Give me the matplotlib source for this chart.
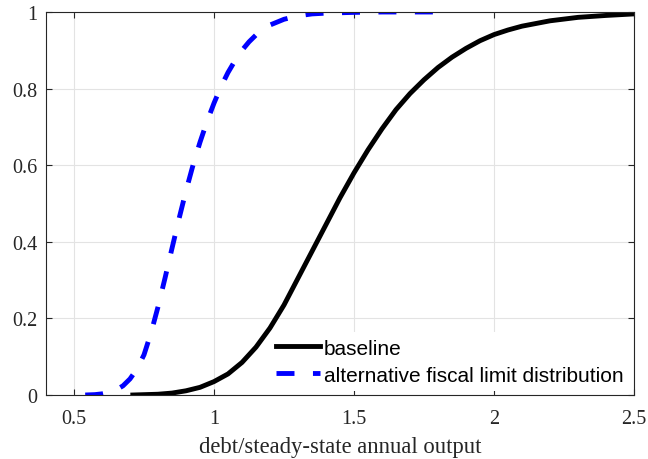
import matplotlib
matplotlib.use('Agg')
import matplotlib.pyplot as plt

base_x = [0.71, 0.8, 0.85, 0.9, 0.95, 1.0, 1.05, 1.1, 1.15, 1.2, 1.25, 1.3, 1.35, 1.4, 1.45, 1.5,
          1.55, 1.6, 1.65, 1.7, 1.75, 1.8, 1.85, 1.9, 1.95, 2.0, 2.05, 2.1, 2.2, 2.3, 2.4, 2.5]
base_y = [0.0, 0.002, 0.005, 0.011, 0.02, 0.035, 0.055, 0.085, 0.125, 0.175, 0.235, 0.305, 0.375,
          0.445, 0.515, 0.58, 0.64, 0.695, 0.745, 0.787, 0.823, 0.855, 0.882, 0.905, 0.925, 0.941,
          0.953, 0.963, 0.977, 0.986, 0.991, 0.995]
alt_x = [0.54, 0.575, 0.6, 0.625, 0.65, 0.675, 0.7, 0.725, 0.75, 0.775, 0.8, 0.825, 0.85, 0.875,
         0.9, 0.925, 0.95, 0.975, 1.0, 1.025, 1.05, 1.075, 1.1, 1.125, 1.15, 1.175, 1.2, 1.25,
         1.3, 1.35, 1.4, 1.5, 1.6, 1.7, 1.82]
alt_y = [0.0, 0.001, 0.003, 0.007, 0.013, 0.024, 0.042, 0.068, 0.105, 0.162, 0.23, 0.305, 0.383,
         0.46, 0.533, 0.6, 0.66, 0.714, 0.762, 0.805, 0.842, 0.873, 0.9, 0.922, 0.94, 0.955,
         0.966, 0.981, 0.99, 0.995, 0.997, 0.999, 1.0, 1.0, 1.0]

plt.rcParams['font.family'] = 'Liberation Serif'
fig = plt.figure(figsize=(6.48, 4.6), dpi=100)
ax = fig.add_axes([46/648, 64/460, 588/648, 383/460])

ax.plot(base_x, base_y, color='black', lw=3.5, label='baseline')
ax.plot(alt_x, alt_y, color='blue', lw=3.5, dashes=(3.7, 3.8),
        label='alternative fiscal limit distribution')

ax.set_xlim(0.4, 2.5)
ax.set_ylim(0, 1)
ax.set_xticks([0.5, 1, 1.5, 2, 2.5])
ax.set_xticklabels(['0.5', '1', '1.5', '2', '2.5'])
ax.set_yticks([0, 0.2, 0.4, 0.6, 0.8, 1])
ax.set_yticklabels(['0', '0.2', '0.4', '0.6', '0.8', '1'])
ax.grid(True, color='#e3e3e3', lw=0.8)
ax.set_axisbelow(True)
ax.tick_params(direction='in', top=True, right=True, labelsize=14.5, color='#262626',
               labelcolor='#262626', length=4.2)
ax.tick_params(axis='x', pad=10)
ax.tick_params(axis='y', pad=6)
for s in ax.spines.values():
    s.set_color('#262626')
    s.set_linewidth(0.8)
ax.set_xlabel('debt/steady-state annual output', fontsize=16.3, color='#262626', labelpad=6)

leg = ax.legend(loc='lower right', prop={'family': 'Liberation Sans', 'size': 15},
                handlelength=2.1, handletextpad=0.2, borderaxespad=0.2, borderpad=0.3,
                labelspacing=0.38, fancybox=False, framealpha=1)
leg.get_frame().set_linewidth(0)

fig.savefig('out.png', dpi=100)
